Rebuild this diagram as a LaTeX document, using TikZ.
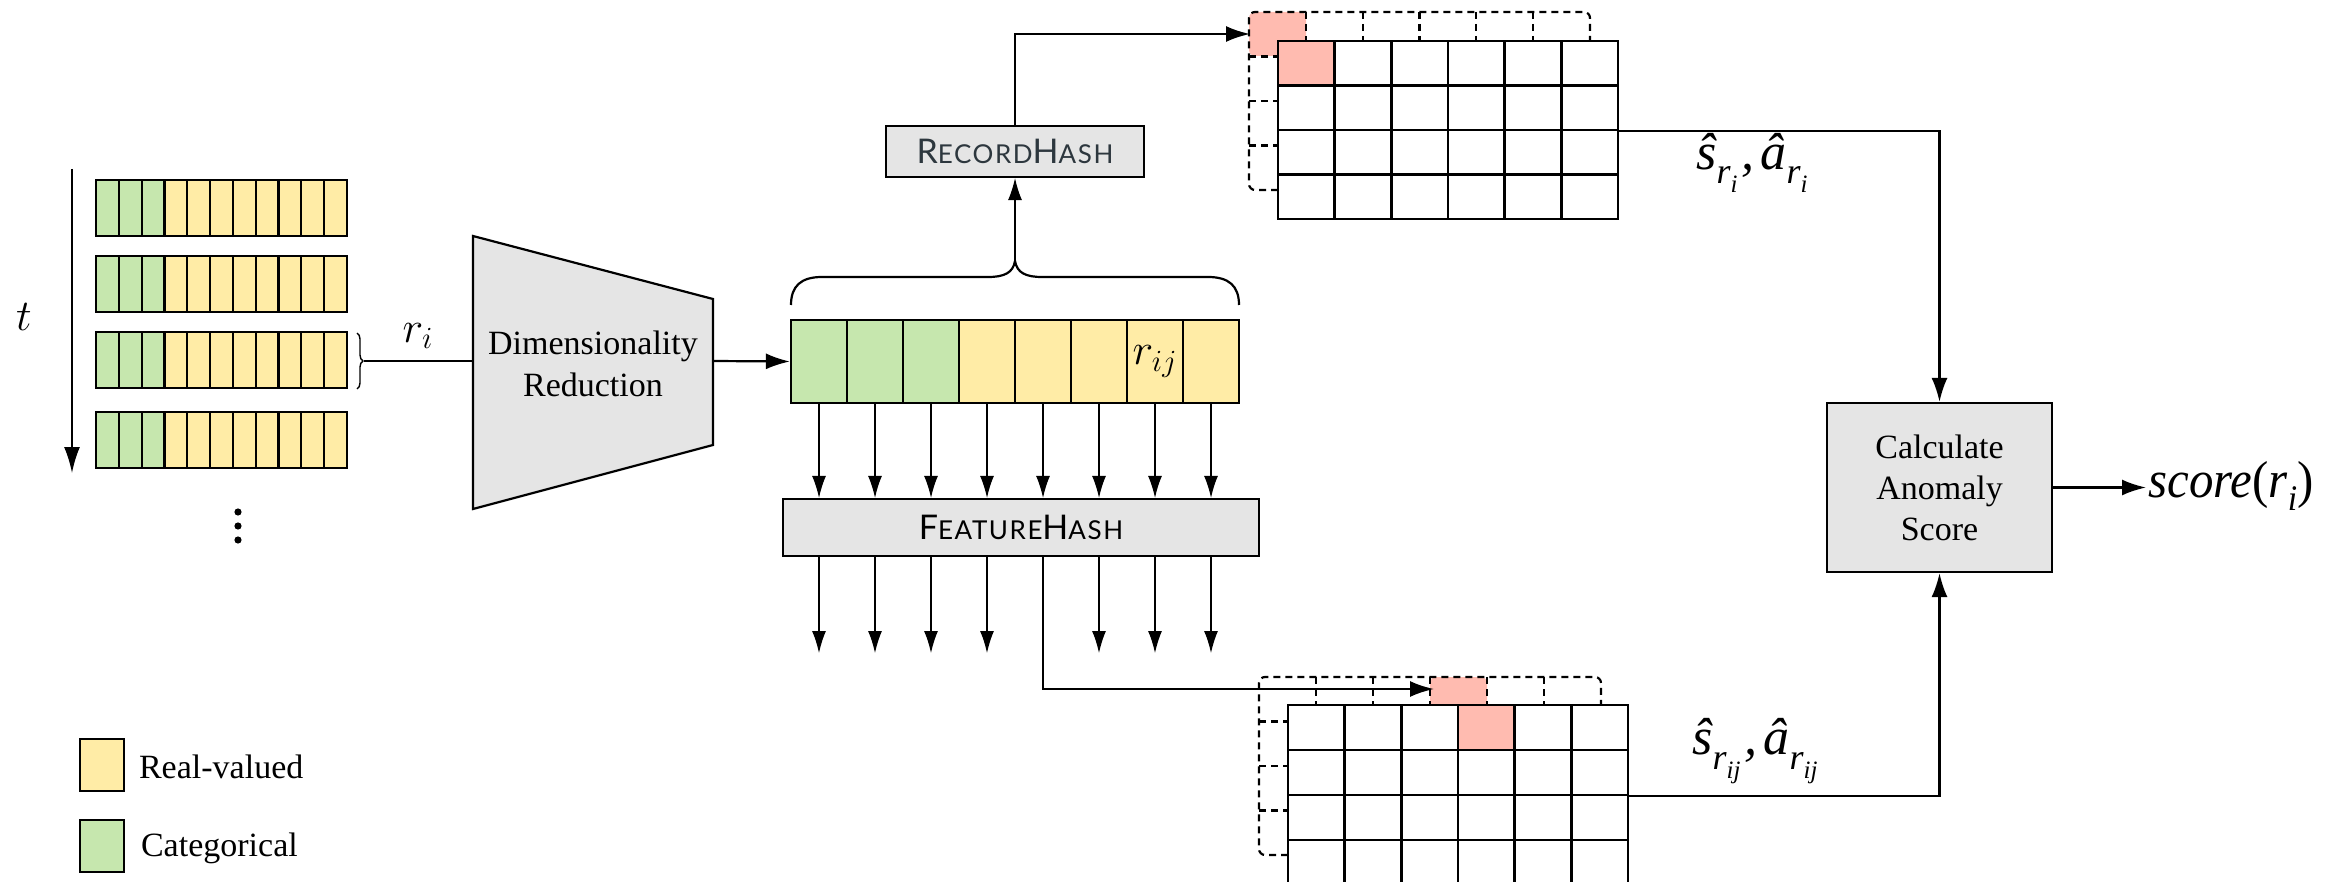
\documentclass[tikz,border=0pt]{standalone}
\usepackage{fix-cm}
\usepackage{fontspec}
\setmainfont{Liberation Serif}
\newfontfamily\timesfont{Liberation Serif}
\newfontfamily\narrowserif[FakeStretch=0.94]{Liberation Serif}
\newfontfamily\capsans[LetterSpace=6]{Lato}
\usetikzlibrary{arrows.meta,decorations.pathreplacing}

\definecolor{catgreen}{RGB}{198,231,174}
\definecolor{realyellow}{RGB}{255,236,166}
\definecolor{hitpink}{RGB}{255,187,176}
\definecolor{boxgray}{RGB}{229,229,229}
\definecolor{hashtext}{RGB}{45,55,62}

% fake small capitals: full-size initial, reduced capitals after it
\newcommand\fsc[2]{{\fontsize{17}{17}\selectfont #1}{\fontsize{13}{13}\selectfont #2}}
% hatted symbol with a nested subscript
\newcommand\hatlbl[2]{#1\raisebox{-0.28em}{\fontsize{18}{18}\selectfont r\raisebox{-0.25em}{\fontsize{12.5}{12.5}\selectfont #2}}}

\tikzset{
  cellbase/.style={draw=black, line width=1.1pt, inner sep=0pt},
  catcell/.style={cellbase, fill=catgreen},
  realcell/.style={cellbase, fill=realyellow},
  gridcell/.style={draw=black, line width=1.2pt, fill=white, inner sep=0pt,
                   minimum width=28.33pt, minimum height=22.25pt},
  backdash/.style={line width=1.1pt, dash pattern=on 3.5pt off 2.5pt},
  hashbox/.style={draw=black, line width=1.1pt, fill=boxgray, inner sep=0pt},
  flow/.style={line width=1.1pt, -{Latex[length=12pt,width=8pt]}},
  feed/.style={line width=0.6pt, -{Latex[length=11pt,width=7pt]}},
  conn/.style={line width=1.1pt},
}

\begin{document}
\begin{tikzpicture}[x=0.5pt,y=-0.5pt]
\useasboundingbox (0,0) rectangle (2346,882);
\clip (0,0) rectangle (2346,882);

% ---------- stream of records ----------
\coordinate (ttop) at (72,169);
\coordinate (tbot) at (72,473);
\draw[line width=1pt, -{Latex[length=13pt,width=8pt]}] (ttop) -- (tbot);
\node (tlabel) at (24,317) {\fontsize{22}{22}\selectfont$t$};

\foreach \ty [count=\n] in {180,256,332,412} {
  \foreach \k in {0,1,2}
    \node[catcell, minimum width=11.41pt, minimum height=28pt]
      (row\n-\k) at ({96+22.82*\k+11.41},\ty+28) {};
  \foreach \k in {3,...,10}
    \node[realcell, minimum width=11.41pt, minimum height=28pt]
      (row\n-\k) at ({96+22.82*\k+11.41},\ty+28) {};
}
\foreach \yy in {512,526,540}
  \fill (238,\yy) circle[radius=1.8pt];

% brace marking the current record r_i
\draw[decorate, decoration={brace, amplitude=3pt}, line width=0.7pt]
  (357,333) -- (357,389);
\coordinate (ritip) at (364,361);
\node (rilabel) at (418,336) {\fontsize{22}{22}\selectfont$r_i$};

% ---------- dimensionality reduction ----------
\coordinate (drtl) at (473,236);
\coordinate (drtr) at (713,299);
\coordinate (drbr) at (713,445);
\coordinate (drbl) at (473,509);
\filldraw[fill=boxgray, line width=1.1pt] (drtl) -- (drtr) -- (drbr) -- (drbl) -- cycle;
\node[align=center, font=\timesfont\fontsize{17}{21}\selectfont] (dimred) at (593,364)
  {Dimensionality\\Reduction};
\coordinate (drin) at (473,361);
\coordinate (drout) at (713,361);
\draw[conn] (ritip) -- (drin);

% ---------- reduced record ----------
\foreach \k in {1,2,3}
  \node[catcell, minimum width=28pt, minimum height=41.5pt] (f\k) at (763+56*\k,361.5) {};
\foreach \k in {4,5,6,8}
  \node[realcell, minimum width=28pt, minimum height=41.5pt] (f\k) at (763+56*\k,361.5) {};
\node[realcell, minimum width=28pt, minimum height=41.5pt] (f7) at (763+56*7,361.5)
  {\fontsize{22}{22}\selectfont$r_{ij}$};
\draw[flow] (drout) -- (f1.west);

% brace over the whole record
\coordinate (bracetip) at (1015,261);
\draw[line width=1.1pt] (791,305) .. controls (791,286) and (801,277) .. (822,277)
  -- (988,277) .. controls (1004,277) and (1013,273) .. (bracetip)
  .. controls (1017,273) and (1026,277) .. (1042,277)
  -- (1208,277) .. controls (1229,277) and (1239,286) .. (1239,305);

% ---------- hashing boxes ----------
\node[hashbox, minimum width=129pt, minimum height=25.5pt, text=hashtext]
  (rh) at (1015,151.5) {\capsans\fsc{R}{ECORD}\fsc{H}{ASH}};
\node[hashbox, minimum width=238pt, minimum height=28.5pt]
  (fh) at (1021,527.5) {\capsans\fsc{F}{EATURE}\fsc{H}{ASH}};
\draw[feed] (bracetip) -- (rh.south);

\foreach \k in {1,...,8}
  \draw[feed] (f\k.south) -- (f\k.south |- fh.north);
\foreach \k in {1,2,3,4,6,7,8} {
  \coordinate (out\k) at (763+56*\k,653);
  \draw[feed] (f\k |- fh.south) -- (out\k);
}

% ---------- record count-min sketch ----------
\fill[hitpink, rounded corners=3pt] (1249,12) rectangle (1306,56);
\draw[backdash, rounded corners=3pt] (1278,190) -- (1249,190) -- (1249,12) -- (1590,12) -- (1590,41);
\foreach \k in {1,...,5}
  \draw[backdash] ({1249+56.83*\k},12) -- ({1249+56.83*\k},41);
\foreach \k in {1,2,3}
  \draw[backdash] (1249,12+44.5*\k) -- (1278,12+44.5*\k);
\foreach \n in {0,...,3}
  \foreach \m in {0,...,5}
    \node[gridcell] (tg-\n-\m) at ({1278+56.67*(\m+0.5)},{41+44.5*(\n+0.5)}) {};
\node[gridcell, fill=hitpink] at (tg-0-0) {};
\coordinate (tgin) at (1250,34);
\draw[flow] (rh.north) |- (tgin);

% ---------- feature count-min sketch ----------
\fill[hitpink, rounded corners=3pt] (1430,677) rectangle (1487,722);
\draw[backdash, rounded corners=3pt] (1288,855) -- (1259,855) -- (1259,677) -- (1601,677) -- (1601,705);
\foreach \k in {1,...,5}
  \draw[backdash] ({1259+57*\k},677) -- ({1259+57*\k},705);
\foreach \k in {1,2,3}
  \draw[backdash] (1259,677+44.5*\k) -- (1288,677+44.5*\k);
\foreach \n in {0,...,3}
  \foreach \m in {0,...,5}
    \node[gridcell, minimum height=22.5pt] (bg-\n-\m) at ({1288+56.67*(\m+0.5)},{705+45*(\n+0.5)}) {};
\node[gridcell, minimum height=22.5pt, fill=hitpink] at (bg-0-3) {};
\coordinate (bgin) at (1434,689);
\draw[flow] (f5 |- fh.south) |- (bgin);

% ---------- anomaly score ----------
\node[hashbox, minimum width=112.5pt, minimum height=84.5pt, align=center,
      font=\timesfont\fontsize{17}{20.5}\selectfont] (calc) at (1939.5,487.5)
  {Calculate\\Anomaly\\Score};
\draw[flow] (tg-1-5.south east) -| (calc.north);
\draw[flow] (bg-1-5.south east) -| (calc.south);

\node[anchor=base west, inner sep=1pt] (score) at (2146,497)
  {\narrowserif\fontsize{26}{26}\selectfont\itshape score\upshape(\itshape r\raisebox{-0.25em}{\fontsize{18}{18}\selectfont i}\upshape)};
\draw[flow] (calc.east) -- (calc.east -| score.west);

\node (rlabel) at (1752,163) {\timesfont\itshape\fontsize{26}{26}\selectfont
  \hatlbl{ŝ}{i}\hspace{2pt},\hspace{3pt}\hatlbl{â}{i}};
\node (flabel) at (1755,751) {\timesfont\itshape\fontsize{26}{26}\selectfont
  \hatlbl{ŝ}{ij}\hspace{2pt},\hspace{3pt}\hatlbl{â}{ij}};

% ---------- legend ----------
\node[realcell, minimum width=22pt, minimum height=26pt] (legreal) at (102,765) {};
\node[anchor=west, font=\timesfont\fontsize{17}{17}\selectfont] (legrealtxt) at (132,767) {Real-valued};
\node[catcell, minimum width=22pt, minimum height=26pt] (legcat) at (102,846) {};
\node[anchor=west, font=\timesfont\fontsize{17}{17}\selectfont] (legcattxt) at (134,848) {Categorical};
\end{tikzpicture}
\end{document}
